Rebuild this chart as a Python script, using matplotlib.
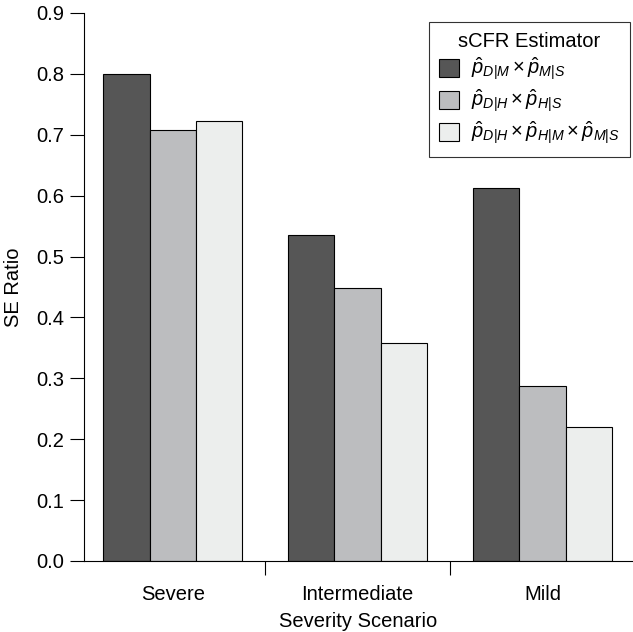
import numpy as np
import matplotlib
matplotlib.use("Agg")
from matplotlib import pyplot as plt

plt.rcParams["font.family"] = ["Liberation Sans", "DejaVu Sans"]
plt.rcParams["mathtext.fontset"] = "custom"
plt.rcParams["mathtext.rm"] = "Liberation Sans"
plt.rcParams["mathtext.it"] = "Liberation Sans:italic"

scenarios = ["Severe", "Intermediate", "Mild"]
estimators = [r"$\hat{p}_{D|M}\times\hat{p}_{M|S}$",
              r"$\hat{p}_{D|H}\times\hat{p}_{H|S}$",
              r"$\hat{p}_{D|H}\times\hat{p}_{H|M}\times\hat{p}_{M|S}$"]
se_dm_ms = [0.800, 0.535, 0.612]
se_dh_hs = [0.708, 0.448, 0.287]
se_dh_hm_ms = [0.722, 0.358, 0.220]
colors = ["#565656", "#bcbdbf", "#eceeed"]

fs = 14.5
fig = plt.figure(figsize=(6.33, 6.32), dpi=100)
ax = fig.add_axes([84/633, 71/632, 549/633, 548/632])

x = np.arange(len(scenarios))
w = 0.25
for i, (vals, lab) in enumerate(zip([se_dm_ms, se_dh_hs, se_dh_hm_ms], estimators)):
    ax.bar(x + (i - 1) * w, vals, w, color=colors[i], edgecolor="black",
           linewidth=0.8, label=lab)

ax.set_xlim(-0.48, 2.49)
ax.set_ylim(0, 0.9)
ax.set_yticks(np.arange(0, 0.91, 0.1))
ax.set_yticklabels(["{0:.1f}".format(v) for v in np.arange(0, 0.91, 0.1)], fontsize=fs)
ax.set_xticks([0.5, 1.5])
ax.set_xticklabels(["", ""])
ax.set_xticks(x, minor=True)
ax.set_xticklabels(scenarios, minor=True, fontsize=fs)
ax.tick_params(axis="x", which="minor", length=0, pad=17)
ax.tick_params(axis="x", which="major", length=10, width=0.8, direction="out")
ax.tick_params(axis="y", length=10, width=0.8, direction="out", pad=4)
ax.spines["top"].set_visible(False)
ax.spines["right"].set_visible(False)
ax.spines["left"].set_linewidth(0.8)
ax.spines["bottom"].set_linewidth(0.8)
ax.set_xlabel("Severity Scenario", fontsize=fs, labelpad=6)
ax.set_ylabel("SE Ratio", fontsize=fs, labelpad=10)

leg = ax.legend(title="sCFR Estimator", loc="upper right",
                bbox_to_anchor=(0.9945, 0.9836), borderaxespad=0,
                fontsize=14.5, title_fontsize=fs,
                handlelength=1.0, handleheight=1.0, handletextpad=0.6,
                frameon=True, fancybox=False, borderpad=0.5, labelspacing=0.25)
leg.get_frame().set_edgecolor("black")
leg.get_frame().set_linewidth(0.8)

plt.savefig("out.png", dpi=100)
